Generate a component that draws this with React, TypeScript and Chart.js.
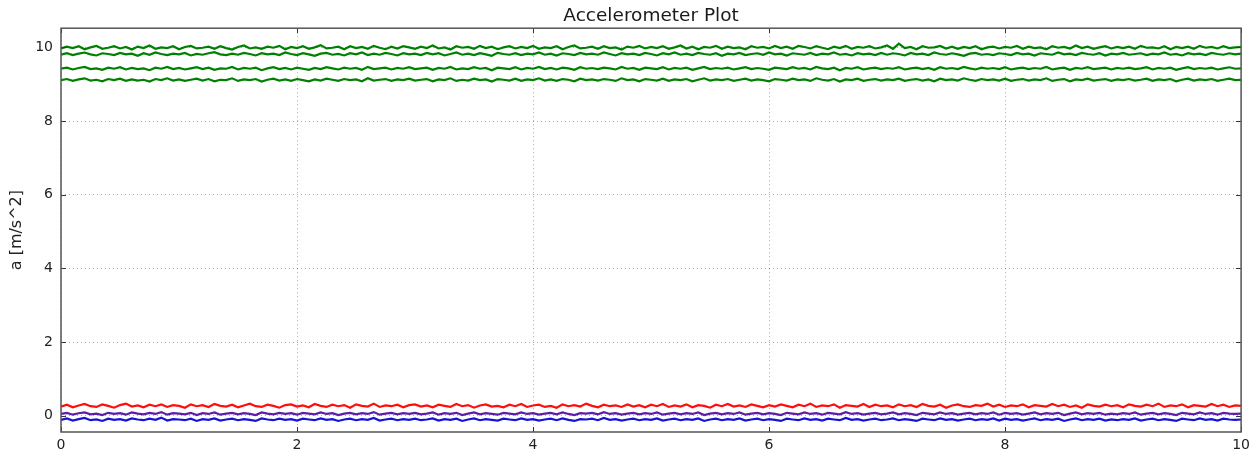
import React, { useEffect, useRef } from "react";
import { Chart, registerables } from "chart.js";

Chart.register(...registerables);

const TITLE = "Accelerometer Plot";
const Y_LABEL = "a [m/s^2]";
const TIME_STEP = 0.05;
const X_TICKS = [0, 2, 4, 6, 8, 10];
const Y_TICKS = [0, 2, 4, 6, 8, 10];

const GREEN_1 = [
  9.97,10.02,9.98,10.03,9.95,10.00,10.04,9.96,9.99,10.03,9.97,10.01,9.94,10.02,9.98,10.05,9.96,10.00,9.98,10.03,
  9.95,10.01,10.04,9.97,9.99,10.02,9.96,10.03,9.98,9.94,10.01,10.05,9.97,10.00,9.96,10.02,9.99,10.04,9.95,10.01,
  9.98,10.03,9.96,10.00,10.06,9.97,9.99,10.02,9.95,10.03,9.98,10.01,9.96,10.04,9.99,9.95,10.02,9.97,10.03,10.00,
  9.96,10.02,9.98,10.05,9.97,10.00,9.94,10.03,9.99,10.01,9.96,10.04,9.98,10.02,9.95,10.00,10.03,9.97,10.01,9.98,
  10.04,9.96,10.00,9.98,10.03,9.95,10.01,10.05,9.97,9.99,10.02,9.96,10.03,9.98,10.00,9.94,10.02,9.99,10.04,9.97,
  10.01,9.98,10.03,9.96,10.00,10.05,9.97,10.02,9.95,10.01,9.99,10.04,9.96,10.02,9.98,10.00,9.95,10.03,9.99,10.01,
  9.97,10.04,9.98,10.02,9.96,10.04,10.01,9.97,10.03,9.99,9.95,10.02,9.98,10.04,9.96,10.01,9.99,10.03,9.97,10.00,
  10.05,9.96,10.10,9.98,10.01,9.95,10.03,9.99,10.00,10.04,9.97,10.02,9.96,10.01,9.98,10.03,9.95,10.00,10.02,9.97,
  10.01,9.99,10.04,9.96,10.02,9.98,10.00,9.95,10.03,9.99,10.01,9.97,10.05,9.98,10.02,9.96,10.00,10.03,9.97,10.01,
  9.98,10.02,9.96,10.04,9.99,10.00,9.97,10.03,9.95,10.01,9.98,10.02,9.96,10.04,9.99,10.01,9.97,10.03,9.98,10.00,
  10.01,
];
const GREEN_2 = [
  9.80,9.84,9.79,9.83,9.86,9.81,9.78,9.84,9.82,9.79,9.85,9.81,9.83,9.77,9.84,9.80,9.86,9.82,9.79,9.83,
  9.81,9.85,9.78,9.82,9.80,9.84,9.87,9.81,9.79,9.83,9.80,9.85,9.82,9.78,9.84,9.81,9.83,9.79,9.86,9.82,
  9.79,9.84,9.81,9.77,9.83,9.85,9.80,9.82,9.78,9.84,9.81,9.86,9.79,9.83,9.80,9.85,9.82,9.78,9.84,9.81,
  9.83,9.79,9.85,9.81,9.84,9.78,9.82,9.86,9.80,9.83,9.79,9.84,9.81,9.77,9.85,9.82,9.80,9.84,9.79,9.83,
  9.81,9.86,9.80,9.83,9.78,9.84,9.82,9.79,9.85,9.81,9.83,9.80,9.86,9.82,9.78,9.84,9.81,9.83,9.79,9.85,
  9.82,9.78,9.84,9.81,9.86,9.80,9.83,9.79,9.85,9.82,9.80,9.84,9.77,9.83,9.81,9.85,9.79,9.82,9.84,9.80,
  9.86,9.81,9.83,9.78,9.84,9.82,9.80,9.85,9.79,9.83,9.81,9.86,9.80,9.82,9.78,9.84,9.81,9.83,9.79,9.85,
  9.80,9.84,9.82,9.78,9.85,9.81,9.83,9.79,9.86,9.82,9.80,9.84,9.81,9.77,9.83,9.85,9.80,9.82,9.79,9.84,
  9.82,9.79,9.85,9.81,9.83,9.78,9.84,9.82,9.80,9.86,9.81,9.83,9.79,9.85,9.82,9.80,9.84,9.78,9.83,9.81,
  9.85,9.80,9.82,9.84,9.79,9.83,9.81,9.86,9.80,9.82,9.78,9.84,9.81,9.83,9.79,9.85,9.82,9.80,9.84,9.81,
  9.83,
];
const GREEN_3 = [
  9.42,9.45,9.40,9.44,9.47,9.41,9.43,9.39,9.45,9.42,9.46,9.40,9.44,9.41,9.43,9.38,9.45,9.42,9.47,9.41,
  9.44,9.40,9.43,9.46,9.41,9.45,9.39,9.43,9.42,9.47,9.40,9.44,9.42,9.45,9.38,9.43,9.46,9.41,9.44,9.40,
  9.45,9.42,9.39,9.44,9.41,9.46,9.43,9.40,9.45,9.42,9.44,9.39,9.47,9.41,9.43,9.45,9.40,9.44,9.42,9.46,
  9.41,9.43,9.45,9.39,9.44,9.42,9.47,9.40,9.43,9.41,9.46,9.42,9.44,9.38,9.45,9.43,9.41,9.46,9.40,9.44,
  9.42,9.47,9.41,9.44,9.40,9.45,9.43,9.39,9.46,9.42,9.44,9.41,9.45,9.43,9.40,9.47,9.42,9.44,9.39,9.45,
  9.43,9.41,9.46,9.40,9.44,9.42,9.45,9.39,9.43,9.47,9.41,9.44,9.42,9.45,9.40,9.43,9.46,9.41,9.44,9.42,
  9.39,9.45,9.43,9.41,9.46,9.42,9.44,9.40,9.47,9.43,9.41,9.45,9.38,9.44,9.42,9.46,9.40,9.43,9.45,9.41,
  9.44,9.42,9.46,9.40,9.43,9.45,9.41,9.44,9.39,9.46,9.42,9.44,9.41,9.47,9.43,9.40,9.45,9.42,9.44,9.41,
  9.46,9.40,9.43,9.45,9.41,9.44,9.42,9.47,9.40,9.43,9.45,9.39,9.44,9.42,9.46,9.41,9.43,9.45,9.40,9.44,
  9.42,9.45,9.41,9.43,9.46,9.40,9.44,9.42,9.45,9.39,9.43,9.46,9.41,9.44,9.42,9.45,9.40,9.43,9.46,9.42,
  9.43,
];
const GREEN_4 = [
  9.11,9.14,9.09,9.13,9.16,9.10,9.12,9.08,9.14,9.11,9.15,9.09,9.13,9.10,9.12,9.07,9.14,9.11,9.16,9.10,
  9.13,9.09,9.12,9.15,9.10,9.14,9.08,9.12,9.11,9.16,9.09,9.13,9.11,9.14,9.07,9.12,9.15,9.10,9.13,9.09,
  9.14,9.11,9.08,9.13,9.10,9.15,9.12,9.09,9.14,9.11,9.13,9.08,9.16,9.10,9.12,9.14,9.09,9.13,9.11,9.15,
  9.10,9.12,9.14,9.08,9.13,9.11,9.16,9.09,9.12,9.10,9.15,9.11,9.13,9.07,9.14,9.12,9.10,9.15,9.09,9.13,
  9.11,9.16,9.10,9.13,9.09,9.14,9.12,9.08,9.15,9.11,9.13,9.10,9.14,9.12,9.09,9.16,9.11,9.13,9.08,9.14,
  9.12,9.10,9.15,9.09,9.13,9.11,9.14,9.08,9.12,9.16,9.10,9.13,9.11,9.14,9.09,9.12,9.15,9.10,9.13,9.11,
  9.08,9.14,9.12,9.10,9.15,9.11,9.13,9.09,9.16,9.12,9.10,9.14,9.07,9.13,9.11,9.15,9.09,9.12,9.14,9.10,
  9.13,9.11,9.15,9.09,9.12,9.14,9.10,9.13,9.08,9.15,9.11,9.13,9.10,9.16,9.12,9.09,9.14,9.11,9.13,9.10,
  9.15,9.09,9.12,9.14,9.10,9.13,9.11,9.16,9.09,9.12,9.14,9.08,9.13,9.11,9.15,9.10,9.12,9.14,9.09,9.13,
  9.11,9.14,9.10,9.12,9.15,9.09,9.13,9.11,9.14,9.08,9.12,9.15,9.10,9.13,9.11,9.14,9.09,9.12,9.15,9.11,
  9.12,
];
const RED = [
  0.25,0.30,0.23,0.28,0.32,0.26,0.24,0.31,0.27,0.22,0.29,0.33,0.25,0.28,0.23,0.30,0.26,0.31,0.24,0.29,
  0.27,0.22,0.31,0.26,0.29,0.24,0.32,0.27,0.25,0.30,0.23,0.28,0.33,0.26,0.24,0.30,0.27,0.22,0.29,0.31,
  0.25,0.28,0.23,0.32,0.27,0.24,0.30,0.26,0.29,0.22,0.31,0.27,0.25,0.33,0.24,0.28,0.26,0.30,0.23,0.29,
  0.31,0.25,0.28,0.23,0.30,0.27,0.24,0.32,0.26,0.29,0.22,0.28,0.31,0.25,0.27,0.23,0.30,0.26,0.32,0.24,
  0.28,0.30,0.24,0.27,0.22,0.31,0.26,0.29,0.25,0.33,0.27,0.23,0.30,0.26,0.28,0.24,0.31,0.25,0.29,0.23,
  0.30,0.26,0.32,0.24,0.28,0.25,0.31,0.23,0.29,0.27,0.22,0.30,0.26,0.32,0.25,0.28,0.24,0.31,0.27,0.23,
  0.29,0.25,0.31,0.27,0.23,0.30,0.26,0.33,0.24,0.28,0.26,0.31,0.22,0.29,0.27,0.25,0.32,0.24,0.30,0.26,
  0.28,0.23,0.31,0.26,0.29,0.24,0.32,0.27,0.25,0.30,0.22,0.28,0.31,0.26,0.24,0.29,0.27,0.33,0.25,0.30,
  0.24,0.28,0.26,0.31,0.23,0.29,0.27,0.25,0.32,0.26,0.30,0.24,0.28,0.22,0.31,0.27,0.25,0.30,0.26,0.29,
  0.23,0.31,0.27,0.25,0.30,0.26,0.33,0.24,0.28,0.26,0.31,0.23,0.29,0.27,0.25,0.32,0.26,0.30,0.24,0.28,
  0.27,
];
const PURPLE = [
  0.05,0.08,0.03,0.07,0.09,0.04,0.06,0.02,0.08,0.05,0.07,0.03,0.09,0.06,0.04,0.08,0.05,0.10,0.03,0.07,
  0.06,0.04,0.08,0.02,0.07,0.05,0.09,0.03,0.06,0.08,0.04,0.07,0.05,0.02,0.09,0.06,0.04,0.08,0.05,0.07,
  0.03,0.08,0.06,0.04,0.09,0.05,0.07,0.02,0.06,0.08,0.04,0.07,0.05,0.10,0.03,0.06,0.08,0.04,0.07,0.05,
  0.08,0.04,0.06,0.09,0.03,0.07,0.05,0.08,0.02,0.06,0.09,0.04,0.07,0.05,0.03,0.08,0.06,0.04,0.09,0.05,
  0.07,0.03,0.06,0.08,0.04,0.09,0.05,0.02,0.07,0.06,0.08,0.04,0.10,0.05,0.07,0.03,0.06,0.08,0.04,0.07,
  0.05,0.09,0.03,0.06,0.08,0.04,0.07,0.05,0.09,0.02,0.06,0.08,0.04,0.07,0.05,0.09,0.03,0.06,0.08,0.04,
  0.07,0.05,0.02,0.08,0.06,0.04,0.09,0.05,0.07,0.03,0.08,0.06,0.04,0.10,0.05,0.07,0.03,0.06,0.08,0.04,
  0.06,0.09,0.04,0.07,0.05,0.02,0.08,0.06,0.04,0.09,0.05,0.07,0.03,0.06,0.08,0.04,0.07,0.05,0.09,0.03,
  0.08,0.05,0.07,0.03,0.06,0.09,0.04,0.07,0.05,0.08,0.02,0.06,0.09,0.04,0.07,0.05,0.08,0.03,0.06,0.04,
  0.07,0.05,0.09,0.03,0.06,0.08,0.04,0.07,0.05,0.02,0.08,0.06,0.04,0.09,0.05,0.07,0.03,0.08,0.06,0.05,
  0.06,
];
const BLUE = [
  -0.11,-0.07,-0.13,-0.09,-0.06,-0.12,-0.10,-0.14,-0.08,-0.11,-0.09,-0.13,-0.07,-0.10,-0.12,-0.08,-0.11,-0.05,-0.13,-0.09,
  -0.10,-0.12,-0.08,-0.14,-0.09,-0.11,-0.07,-0.13,-0.10,-0.08,-0.12,-0.09,-0.11,-0.14,-0.07,-0.10,-0.12,-0.08,-0.11,-0.09,
  -0.13,-0.08,-0.10,-0.12,-0.07,-0.11,-0.09,-0.14,-0.10,-0.08,-0.12,-0.09,-0.11,-0.06,-0.13,-0.10,-0.08,-0.12,-0.09,-0.11,
  -0.08,-0.12,-0.10,-0.07,-0.13,-0.09,-0.11,-0.08,-0.14,-0.10,-0.07,-0.12,-0.09,-0.11,-0.13,-0.08,-0.10,-0.12,-0.07,-0.11,
  -0.09,-0.13,-0.10,-0.08,-0.12,-0.07,-0.11,-0.14,-0.09,-0.10,-0.08,-0.12,-0.06,-0.11,-0.09,-0.13,-0.10,-0.08,-0.12,-0.09,
  -0.11,-0.07,-0.13,-0.10,-0.08,-0.12,-0.09,-0.11,-0.07,-0.14,-0.10,-0.08,-0.12,-0.09,-0.11,-0.07,-0.13,-0.10,-0.08,-0.12,
  -0.09,-0.11,-0.14,-0.08,-0.10,-0.12,-0.07,-0.11,-0.09,-0.13,-0.08,-0.10,-0.12,-0.06,-0.11,-0.09,-0.13,-0.10,-0.08,-0.12,
  -0.10,-0.07,-0.12,-0.09,-0.11,-0.14,-0.08,-0.10,-0.12,-0.07,-0.11,-0.09,-0.13,-0.10,-0.08,-0.12,-0.09,-0.11,-0.07,-0.13,
  -0.08,-0.11,-0.09,-0.13,-0.10,-0.07,-0.12,-0.09,-0.11,-0.08,-0.14,-0.10,-0.07,-0.12,-0.09,-0.11,-0.08,-0.13,-0.10,-0.12,
  -0.09,-0.11,-0.07,-0.13,-0.10,-0.08,-0.12,-0.09,-0.11,-0.14,-0.08,-0.10,-0.12,-0.07,-0.11,-0.09,-0.13,-0.08,-0.10,-0.11,
  -0.10,
];

const SERIES = [
  { name: "z1", values: GREEN_1, color: "#008000" },
  { name: "z2", values: GREEN_2, color: "#008000" },
  { name: "z3", values: GREEN_3, color: "#008000" },
  { name: "z4", values: GREEN_4, color: "#008000" },
  { name: "y", values: BLUE, color: "#1414d6" },
  { name: "xy", values: PURPLE, color: "#5c1ea4" },
  { name: "x", values: RED, color: "#ff0d0d" },
];

const FONT = "'DejaVu Sans', sans-serif";

const frameAndTicks = {
  id: "frameAndTicks",
  afterDatasetsDraw(chart: any) {
    const { ctx, chartArea: a, scales } = chart;
    ctx.save();
    ctx.strokeStyle = "#333";
    ctx.lineWidth = 1;
    const len = 5;
    X_TICKS.forEach((t) => {
      const x = Math.round(scales.x.getPixelForValue(t)) + 0.5;
      ctx.beginPath();
      ctx.moveTo(x, a.bottom);
      ctx.lineTo(x, a.bottom - len);
      ctx.moveTo(x, a.top);
      ctx.lineTo(x, a.top + len);
      ctx.stroke();
    });
    Y_TICKS.forEach((t) => {
      const y = Math.round(scales.y.getPixelForValue(t)) + 0.5;
      ctx.beginPath();
      ctx.moveTo(a.left, y);
      ctx.lineTo(a.left + len, y);
      ctx.moveTo(a.right, y);
      ctx.lineTo(a.right - len, y);
      ctx.stroke();
    });
    ctx.strokeStyle = "#555";
    ctx.lineWidth = 1.5;
    ctx.strokeRect(a.left, a.top, a.right - a.left, a.bottom - a.top);
    ctx.restore();
  },
};

export default function App() {
  const canvasRef = useRef<HTMLCanvasElement | null>(null);

  useEffect(() => {
    document.body.style.margin = "0";
    const canvas = canvasRef.current;
    if (!canvas) return;
    const chart = new Chart(canvas, {
      type: "line",
      data: {
        datasets: SERIES.map((s) => ({
          label: s.name,
          data: s.values.map((v, i) => ({ x: i * TIME_STEP, y: v })),
          borderColor: s.color,
          backgroundColor: s.color,
          borderWidth: 2.2,
          pointRadius: 0,
          tension: 0,
          fill: false,
        })),
      },
      options: {
        animation: false,
        responsive: false,
        maintainAspectRatio: false,
        layout: { padding: { left: 0, right: 8, top: 0, bottom: 0 } },
        plugins: {
          legend: { display: false },
          tooltip: { enabled: false },
          title: {
            display: true,
            fullSize: false,
            text: TITLE,
            color: "#1a1a1a",
            font: { family: FONT, size: 18.5, weight: "normal" },
            padding: { top: 5, bottom: 1 },
          },
        },
        scales: {
          x: {
            type: "linear",
            min: 0,
            max: 10,
            afterBuildTicks: (scale: any) => {
              scale.ticks = X_TICKS.map((v) => ({ value: v }));
            },
            afterFit: (scale: any) => {
              scale.height = 25;
            },
            ticks: {
              color: "#222",
              font: { family: FONT, size: 14 },
              padding: 5,
              maxRotation: 0,
              autoSkip: false,
            },
            grid: {
              color: "rgba(0,0,0,0.32)",
              lineWidth: 1,
              tickLength: 0,
              drawTicks: false,
            },
            border: { display: false, dash: [1, 3] },
          },
          y: {
            type: "linear",
            min: -0.44,
            max: 10.52,
            afterBuildTicks: (scale: any) => {
              scale.ticks = Y_TICKS.map((v) => ({ value: v }));
            },
            afterFit: (scale: any) => {
              scale.width = 61;
            },
            ticks: {
              color: "#222",
              font: { family: FONT, size: 14 },
              padding: 8,
              autoSkip: false,
            },
            title: {
              display: true,
              text: Y_LABEL,
              color: "#222",
              font: { family: FONT, size: 16 },
              padding: { top: 7, bottom: 0 },
            },
            grid: {
              color: "rgba(0,0,0,0.32)",
              lineWidth: 1,
              tickLength: 0,
              drawTicks: false,
            },
            border: { display: false, dash: [1, 3] },
          },
        },
      },
      plugins: [frameAndTicks],
    } as any);
    return () => chart.destroy();
  }, []);

  return (
    <div style={{ width: 1255, height: 457, background: "#fff" }}>
      <canvas ref={canvasRef} width={1255} height={457} style={{ display: "block" }} />
    </div>
  );
}
